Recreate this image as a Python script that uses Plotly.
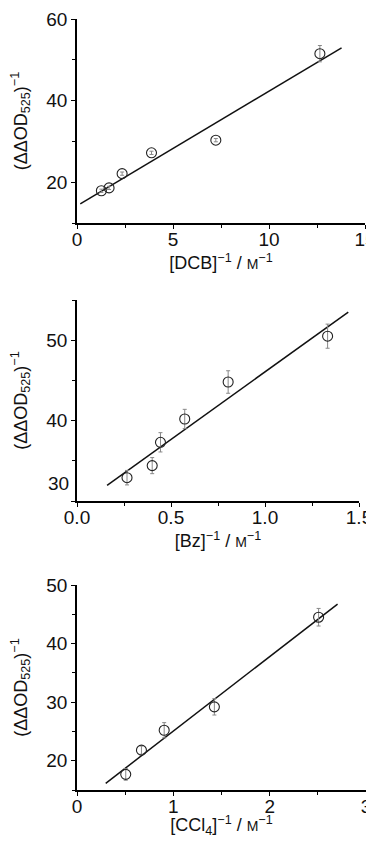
import plotly.graph_objects as go

# Panel 1: DCB
dcb_x = [1.27, 1.67, 2.35, 3.88, 7.23, 12.65]
dcb_y = [17.9, 18.6, 22.1, 27.2, 30.3, 51.5]
dcb_err = [0.4, 0.4, 0.4, 0.4, 0.4, 2.0]
dcb_fit_x = [0.17, 13.78]
dcb_fit_a, dcb_fit_b = 14.2, 2.81

# Panel 2: Bz
bz_x = [0.266, 0.40, 0.444, 0.573, 0.804, 1.333]
bz_y = [32.9, 34.4, 37.3, 40.2, 44.8, 50.5]
bz_err = [0.9, 1.0, 1.2, 1.2, 1.4, 1.5]
bz_fit_x = [0.16, 1.443]
bz_fit_a, bz_fit_b = 29.26, 16.8

# Panel 3: CCl4
ccl_x = [0.506, 0.669, 0.905, 1.426, 2.508]
ccl_y = [17.67, 21.8, 25.2, 29.2, 44.5]
ccl_err = [1.0, 0.7, 1.3, 1.4, 1.5]
ccl_fit_x = [0.298, 2.705]
ccl_fit_a, ccl_fit_b = 12.34, 12.72

# page body has an 8px margin, so the figure is drawn 8px in from the window edge
W, H = 358, 830
OFF = 8


def xd(a, b):
    return [(a - OFF) / W, min(1.0, (b - OFF) / W)]


def yd(bottom, top):
    return [1 - (bottom - OFF) / H, 1 - (top - OFF) / H]


M = "<span style='font-size:14px'>M</span>"
panels = [
    dict(x=dcb_x, y=dcb_y, e=dcb_err, fx=dcb_fit_x, a=dcb_fit_a, b=dcb_fit_b,
         xr=[0, 15], yr=[10, 60], xt=[0, 5, 10, 15], xfmt="d", xminor=2.5,
         yt=[20, 40, 60], ytl=["20", "40", "60"], yminor=10,
         xtitle="[DCB]<sup>−1</sup> / " + M + "<sup>−1</sup>",
         xd=xd(77, 365), yd=yd(223, 19)),
    dict(x=bz_x, y=bz_y, e=bz_err, fx=bz_fit_x, a=bz_fit_a, b=bz_fit_b,
         xr=[0, 1.5], yr=[30, 55], xt=[0, 0.5, 1.0, 1.5], xfmt=".1f", xminor=0.25,
         yt=[30, 40, 50], ytl=["", "40", "50"], yminor=5,
         xtitle="[Bz]<sup>−1</sup> / " + M + "<sup>−1</sup>",
         xd=xd(77, 359), yd=yd(501, 300)),
    dict(x=ccl_x, y=ccl_y, e=ccl_err, fx=ccl_fit_x, a=ccl_fit_a, b=ccl_fit_b,
         xr=[0, 3], yr=[15, 50], xt=[0, 1, 2, 3], xfmt="d", xminor=0.5,
         yt=[20, 30, 40, 50], ytl=["20", "30", "40", "50"], yminor=5,
         xtitle="[CCl<sub>4</sub>]<sup>−1</sup> / " + M + "<sup>−1</sup>",
         xd=xd(77, 366), yd=yd(790, 585)),
]

fig = go.Figure()
font = "Liberation Sans, Arial, sans-serif"
ytitle = "(ΔΔOD<sub>525</sub>)<sup>−1</sup>"

for i, p in enumerate(panels):
    n = "" if i == 0 else str(i + 1)
    xa, ya = "x" + n, "y" + n
    fy = [p["a"] + p["b"] * v for v in p["fx"]]
    fig.add_trace(go.Scatter(x=p["fx"], y=fy, mode="lines", xaxis=xa, yaxis=ya,
                             line=dict(color="#111", width=1.5), showlegend=False,
                             cliponaxis=False))
    fig.add_trace(go.Scatter(x=p["x"], y=p["y"], mode="markers", xaxis=xa, yaxis=ya,
                             marker=dict(symbol="circle-open", size=10, color="#222",
                                         line=dict(width=1.1)),
                             error_y=dict(type="data", array=p["e"], color="#888",
                                          thickness=1, width=2),
                             showlegend=False, cliponaxis=False))
    axcommon = dict(showline=True, linecolor="black", linewidth=1.5, ticks="outside",
                    ticklen=4, tickwidth=1.3, tickcolor="black", showgrid=False,
                    zeroline=False, automargin=False, ticklabeloverflow="allow",
                    tickfont=dict(size=19, family=font, color="#111"))
    fig.layout["xaxis" + n] = dict(
        axcommon, domain=p["xd"], anchor=ya, range=p["xr"], tickvals=p["xt"],
        tickformat=p["xfmt"], ticklabelstandoff=-6,
        minor=dict(dtick=p["xminor"], ticks="outside", ticklen=3, tickcolor="black", tickwidth=1.2),
        title=dict(text=p["xtitle"], font=dict(size=18, family=font, color="#111"), standoff=8))
    fig.layout["yaxis" + n] = dict(
        axcommon, domain=p["yd"], anchor=xa, range=p["yr"], tickvals=p["yt"],
        ticktext=p["ytl"],
        minor=dict(dtick=p["yminor"], ticks="outside", ticklen=3, tickcolor="black", tickwidth=1.2),
        title=dict(text=ytitle, font=dict(size=18, family=font, color="#111"), standoff=22))

# raised "30" label on panel 2 y axis
fig.add_annotation(x=0, y=32.2, xref="x2 domain", yref="y2", text="30", showarrow=False,
                   xanchor="right", xshift=-6, font=dict(size=19, family=font, color="#111"))

fig.update_layout(width=W, height=H, margin=dict(l=0, r=0, t=0, b=0),
                  plot_bgcolor="white", paper_bgcolor="white")
fig.write_html("out.html")
